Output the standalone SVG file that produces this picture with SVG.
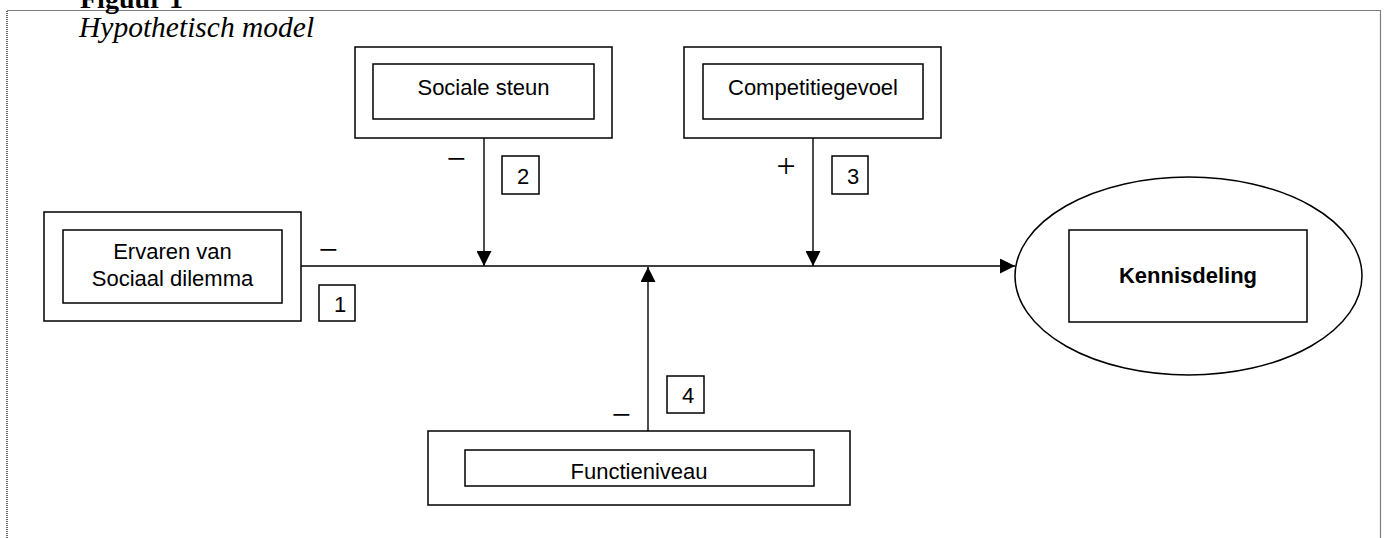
<svg xmlns="http://www.w3.org/2000/svg" width="1386" height="538" viewBox="0 0 1386 538">
<defs>
<style>
.box{fill:#fff;stroke:#000;stroke-width:1.5}
.lbl{font-family:"Liberation Sans",Arial,sans-serif;font-size:22px;fill:#000;text-anchor:middle}
.num{font-family:"Liberation Sans",Arial,sans-serif;font-size:22px;fill:#000;text-anchor:middle}
.sign{font-family:"Liberation Serif","Times New Roman",serif;font-size:34px;fill:#000;text-anchor:middle}
.conn{fill:none;stroke:#000;stroke-width:1.4}
.frame{fill:none;stroke:#000;stroke-width:1.2;stroke-dasharray:1 1}
</style>
<marker id="arr" markerUnits="userSpaceOnUse" markerWidth="16" markerHeight="15" refX="15" refY="7.5" orient="auto">
<path d="M0,0 L15,7.5 L0,15 Z" fill="#000"/>
</marker>
</defs>
<rect width="1386" height="538" fill="#fff"/>
<path class="frame" d="M7,560 V10.5 H1380.5 V560"/>
<text x="80" y="8" font-family="Liberation Serif,Times New Roman,serif" font-size="28" font-weight="bold">Figuur 1</text>
<text x="79" y="37" font-family="Liberation Serif,Times New Roman,serif" font-size="29.5" font-style="italic">Hypothetisch model</text>

<g id="connectors">
<path class="conn" d="M301,266 H1015" marker-end="url(#arr)"/>
<path class="conn" d="M484,138 V266" marker-end="url(#arr)"/>
<path class="conn" d="M813,138 V266" marker-end="url(#arr)"/>
<path class="conn" d="M648,431 V267" marker-end="url(#arr)"/>
</g>

<g id="ervaren">
<rect class="box" x="44" y="212" width="257" height="109"/>
<rect class="box" x="63" y="230" width="219" height="73"/>
<text class="lbl" x="172.5" y="259">Ervaren van</text>
<text class="lbl" x="172.5" y="286">Sociaal dilemma</text>
</g>

<g id="sociale-steun">
<rect class="box" x="355" y="47" width="257" height="91"/>
<rect class="box" x="373" y="64" width="221" height="55"/>
<text class="lbl" x="483.5" y="95">Sociale steun</text>
</g>

<g id="competitiegevoel">
<rect class="box" x="684" y="47" width="257" height="91"/>
<rect class="box" x="703" y="64" width="220" height="55"/>
<text class="lbl" x="813" y="95">Competitiegevoel</text>
</g>

<g id="functieniveau">
<rect class="box" x="428" y="431" width="422" height="74"/>
<rect class="box" x="465" y="450" width="349" height="36"/>
<text class="lbl" x="639" y="479">Functieniveau</text>
</g>

<g id="kennisdeling">
<ellipse class="box" cx="1188.5" cy="276" rx="173.5" ry="99"/>
<rect class="box" x="1069" y="230" width="238" height="92"/>
<text class="lbl" x="1188" y="283" font-weight="bold" font-size="22.5">Kennisdeling</text>
</g>

<g id="labels">
<rect class="box" x="319" y="285" width="36" height="36"/>
<text class="num" x="340" y="312">1</text>
<rect class="box" x="502" y="156" width="37" height="38"/>
<text class="num" x="523" y="184">2</text>
<rect class="box" x="832" y="156" width="36" height="38"/>
<text class="num" x="853" y="184">3</text>
<rect class="box" x="667" y="376" width="37" height="37"/>
<text class="num" x="688" y="403">4</text>
<text class="sign" x="328" y="261">−</text>
<text class="sign" x="456" y="170">−</text>
<text class="sign" x="786" y="177">+</text>
<text class="sign" x="621" y="426">−</text>
</g>
</svg>
